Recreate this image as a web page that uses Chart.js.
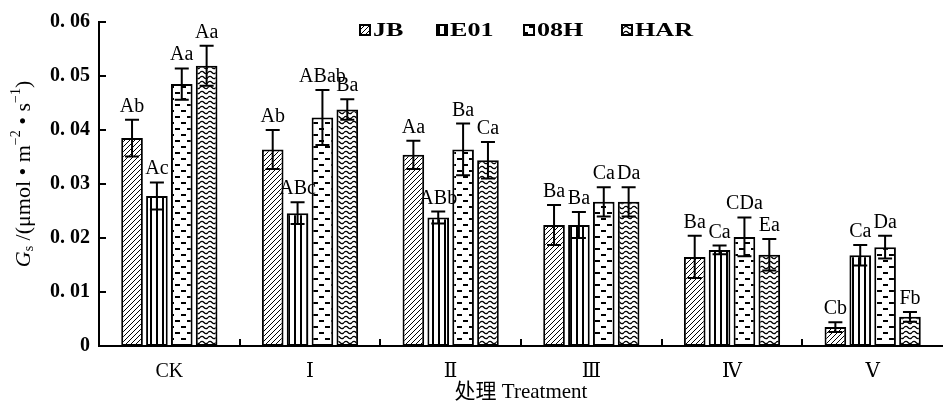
<!DOCTYPE html>
<html>
<head>
<meta charset="utf-8">
<script src="https://cdn.jsdelivr.net/npm/chart.js@4.4.1/dist/chart.umd.min.js"></script>
<style>
  html, body { margin: 0; padding: 0; background: #fff; }
  #wrap { width: 943px; height: 405px; }
</style>
</head>
<body>
<div id="wrap"><canvas id="c" width="943" height="405"></canvas></div>
<script>
// Treatments along the x axis
const categories = ['CK', 'Ⅰ', 'Ⅱ', 'Ⅲ', 'Ⅳ', 'Ⅴ'];
const seriesNames = ['JB', 'E01', '08H', 'HAR'];

// Stomatal conductance Gs (μmol·m⁻²·s⁻¹), means and error half-widths
const jb     = [0.0385, 0.0364, 0.0354, 0.0224, 0.0165, 0.0035];
const jbErr  = [0.0034, 0.0036, 0.0026, 0.0037, 0.0039, 0.0009];
const e01    = [0.0278, 0.0246, 0.0238, 0.0224, 0.0178, 0.0168];
const e01Err = [0.0025, 0.0020, 0.0011, 0.0024, 0.0008, 0.0019];
const h08    = [0.0485, 0.0423, 0.0364, 0.0267, 0.0202, 0.0183];
const h08Err = [0.0029, 0.0051, 0.0048, 0.0027, 0.0036, 0.0021];
const har    = [0.0519, 0.0438, 0.0344, 0.0267, 0.0169, 0.0054];
const harErr = [0.0037, 0.0019, 0.0034, 0.0027, 0.0029, 0.0009];

// Significance letters
const jbSig  = ['Ab', 'Ab', 'Aa', 'Ba', 'Ba', 'Cb'];
const e01Sig = ['Ac', 'ABc', 'ABb', 'Ba', 'Ca', 'Ca'];
const h08Sig = ['Aa', 'ABab', 'Ba', 'Ca', 'CDa', 'Da'];
const harSig = ['Aa', 'Ba', 'Ca', 'Da', 'Ea', 'Fb'];

// y axis ticks
const yMin = 0, yMax = 0.06, yStep = 0.01;

const SERIF = "'Liberation Serif', 'DejaVu Serif', serif";

// Hatch fills for the bars
function makePattern(kind) {
  const c = document.createElement('canvas');
  let w = 6, h = 6;
  if (kind === 'diag') { w = 5; h = 5; }
  if (kind === 'vert') { w = 6; h = 4; }
  if (kind === 'dash') { w = 12; h = 12; }
  if (kind === 'wave') { w = 8; h = 5; }
  c.width = w; c.height = h;
  const g = c.getContext('2d');
  g.fillStyle = '#fff';
  g.fillRect(0, 0, w, h);
  g.fillStyle = '#000';
  g.strokeStyle = '#000';
  if (kind === 'diag') {
    g.lineWidth = 1;
    g.beginPath();
    for (let k = -1; k <= 1; k++) { g.moveTo(k * w, h); g.lineTo(k * w + w, 0); }
    g.stroke();
  } else if (kind === 'vert') {
    g.fillRect(0, 0, 2, h);
  } else if (kind === 'dash') {
    g.fillRect(1, 2, 5, 2);
    g.fillRect(7, 8, 5, 2);
  } else if (kind === 'wave') {
    g.lineWidth = 1.3;
    g.beginPath();
    g.moveTo(0, 2.5);
    g.quadraticCurveTo(2, 0.3, 4, 2.5);
    g.quadraticCurveTo(6, 4.7, 8, 2.5);
    g.stroke();
  }
  return g.createPattern(c, 'repeat');
}

const fills = [makePattern('diag'), makePattern('vert'), makePattern('dash'), makePattern('wave')];
const values = [jb, e01, h08, har];
const errors = [jbErr, e01Err, h08Err, harErr];
const sigs = [jbSig, e01Sig, h08Sig, harSig];

const datasets = seriesNames.map((name, i) => ({
  label: name,
  data: values[i],
  backgroundColor: fills[i],
  borderColor: '#000',
  borderWidth: 2,
  borderSkipped: false,
  categoryPercentage: 0.707,
  barPercentage: 0.87
}));

// Error bars, letters, axis tick marks, legend and y title
const decorations = {
  id: 'decorations',
  afterDatasetsDraw(chart) {
    const ctx = chart.ctx;
    const y = chart.scales.y;
    ctx.save();
    ctx.strokeStyle = '#000';
    ctx.fillStyle = '#000';
    ctx.lineWidth = 2;
    chart.data.datasets.forEach((ds, di) => {
      const meta = chart.getDatasetMeta(di);
      meta.data.forEach((bar, i) => {
        const v = values[di][i], e = errors[di][i];
        const x = bar.x;
        const yt = y.getPixelForValue(v + e);
        const yb = y.getPixelForValue(v - e);
        const cap = 7;
        ctx.beginPath();
        ctx.moveTo(x, yt); ctx.lineTo(x, yb);
        ctx.moveTo(x - cap, yt); ctx.lineTo(x + cap, yt);
        ctx.moveTo(x - cap, yb); ctx.lineTo(x + cap, yb);
        ctx.stroke();
        ctx.font = '20px ' + SERIF;
        ctx.textAlign = 'center';
        ctx.textBaseline = 'alphabetic';
        ctx.fillText(sigs[di][i], x, yt - 8);
      });
    });
    ctx.restore();
  },
  afterDraw(chart) {
    const ctx = chart.ctx;
    const area = chart.chartArea;
    const xs = chart.scales.x, ys = chart.scales.y;
    ctx.save();
    ctx.strokeStyle = '#000';
    ctx.lineWidth = 2;
    // inward y ticks
    ctx.beginPath();
    for (let v = yStep; v <= yMax + 1e-9; v += yStep) {
      const py = Math.round(ys.getPixelForValue(v));
      ctx.moveTo(area.left, py); ctx.lineTo(area.left + 7, py);
    }
    // inward x ticks between treatments
    for (let i = 0; i < categories.length - 1; i++) {
      const px = Math.round((xs.getPixelForValue(i) + xs.getPixelForValue(i + 1)) / 2);
      ctx.moveTo(px, area.bottom); ctx.lineTo(px, area.bottom - 7);
    }
    ctx.stroke();

    // legend
    const legendX = [360, 437, 524, 622];
    const ly = 30;
    ctx.textBaseline = 'middle';
    ctx.textAlign = 'left';
    seriesNames.forEach((name, i) => {
      const bx = legendX[i];
      ctx.fillStyle = fills[i];
      ctx.fillRect(bx, ly - 5, 10, 10);
      ctx.lineWidth = 2;
      ctx.strokeRect(bx, ly - 5, 10, 10);
      ctx.fillStyle = '#000';
      ctx.save();
      ctx.translate(bx + 13, ly + 1);
      ctx.scale(1.45, 1);
      ctx.font = 'bold 18px ' + SERIF;
      ctx.fillText(name, 0, 0);
      ctx.restore();
    });

    // rotated y title: Gs /(μmol • m⁻² • s⁻¹)
    const parts = [
      { t: 'G', f: 'italic 22px ' + SERIF, dy: 0 },
      { t: 's', f: '14px ' + SERIF, dy: 5 },
      { t: ' /(μmol • m', f: '22px ' + SERIF, dy: 0 },
      { t: '−2', f: '14px ' + SERIF, dy: -8 },
      { t: ' • s', f: '22px ' + SERIF, dy: 0 },
      { t: '−1', f: '14px ' + SERIF, dy: -8 },
      { t: ')', f: '22px ' + SERIF, dy: 0 }
    ];
    let total = 0;
    parts.forEach(p => { ctx.font = p.f; p.w = ctx.measureText(p.t).width; total += p.w; });
    ctx.translate(24, 174);
    ctx.rotate(-Math.PI / 2);
    ctx.fillStyle = '#000';
    ctx.textBaseline = 'middle';
    let cx = -total / 2;
    parts.forEach(p => { ctx.font = p.f; ctx.fillText(p.t, cx, p.dy); cx += p.w; });
    ctx.restore();
  }
};

new Chart(document.getElementById('c'), {
  type: 'bar',
  data: { labels: categories, datasets },
  options: {
    responsive: false,
    animation: false,
    devicePixelRatio: 1,
    layout: { padding: { left: 0, right: -5, top: 22, bottom: 0 } },
    plugins: { legend: { display: false }, tooltip: { enabled: false } },
    scales: {
      x: {
        grid: { display: false, drawTicks: false },
        border: { display: true, color: '#000', width: 2 },
        ticks: { color: '#000', padding: 14, font: { family: SERIF, size: 20 } },
        title: {
          display: true,
          text: '处理 Treatment',
          color: '#000',
          padding: { top: 0, bottom: 0 },
          font: { family: "'Liberation Serif', 'Noto Sans CJK SC', serif", size: 21, lineHeight: 1.2 }
        },
        afterFit(s) { s.height = 59; }
      },
      y: {
        min: yMin,
        max: yMax,
        grid: { display: false, drawTicks: false },
        border: { display: true, color: '#000', width: 2 },
        ticks: {
          stepSize: yStep,
          color: '#000',
          padding: 9,
          font: { family: SERIF, size: 20, weight: 'bold' },
          callback: v => (Math.abs(v) < 1e-9 ? '0' : '0. ' + v.toFixed(2).slice(2))
        },
        afterFit(s) { s.width = 99; }
      }
    }
  },
  plugins: [decorations]
});
</script>
</body>
</html>
